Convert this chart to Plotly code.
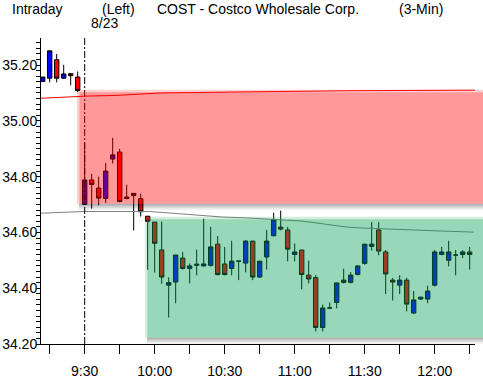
import plotly.graph_objects as go

# ---------------- data ----------------
bar_idx = list(range(62))
opens = [35.141, 35.153, 35.219, 35.153, 35.169, 35.157, 34.701, 34.788, 34.759, 34.722,
         34.863, 34.888, 34.727, 34.732, 34.721, 34.658, 34.637, 34.537, 34.411, 34.422,
         34.508, 34.471, 34.482, 34.480, 34.482, 34.558, 34.487, 34.471, 34.497, 34.490,
         34.569, 34.440, 34.512, 34.588, 34.619, 34.609, 34.521, 34.537, 34.447, 34.438,
         34.259, 34.329, 34.349, 34.429, 34.421, 34.449, 34.489, 34.550, 34.609, 34.530,
         34.429, 34.411, 34.429, 34.311, 34.361, 34.361, 34.411, 34.521, 34.500, 34.519,
         34.521, 34.530]
highs = [35.157, 35.251, 35.240, 35.201, 35.169, 35.177, 34.920, 34.810, 34.800, 34.849,
         34.939, 34.900, 34.771, 34.740, 34.739, 34.658, 34.637, 34.639, 34.439, 34.519,
         34.530, 34.489, 34.538, 34.649, 34.620, 34.587, 34.548, 34.570, 34.497, 34.572,
         34.569, 34.497, 34.609, 34.671, 34.678, 34.620, 34.560, 34.537, 34.499, 34.447,
         34.341, 34.349, 34.419, 34.470, 34.458, 34.482, 34.558, 34.637, 34.637, 34.537,
         34.437, 34.447, 34.437, 34.390, 34.368, 34.409, 34.537, 34.548, 34.570, 34.537,
         34.537, 34.548]
lows = [35.141, 35.138, 35.138, 35.150, 35.127, 35.103, 34.700, 34.685, 34.697, 34.706,
        34.847, 34.708, 34.719, 34.607, 34.657, 34.466, 34.456, 34.416, 34.295, 34.346,
        34.467, 34.417, 34.446, 34.477, 34.477, 34.446, 34.446, 34.446, 34.429, 34.457,
        34.429, 34.437, 34.467, 34.586, 34.607, 34.496, 34.496, 34.396, 34.417, 34.245,
        34.245, 34.329, 34.328, 34.417, 34.417, 34.446, 34.484, 34.535, 34.518, 34.379,
        34.356, 34.379, 34.317, 34.308, 34.358, 34.346, 34.406, 34.518, 34.478, 34.446,
        34.508, 34.467]
closes = [35.157, 35.251, 35.153, 35.168, 35.162, 35.109, 34.788, 34.772, 34.723, 34.820,
          34.878, 34.711, 34.722, 34.740, 34.674, 34.640, 34.561, 34.440, 34.420, 34.519,
          34.471, 34.480, 34.486, 34.487, 34.548, 34.449, 34.449, 34.497, 34.497, 34.569,
          34.440, 34.497, 34.569, 34.646, 34.612, 34.540, 34.530, 34.449, 34.433, 34.259,
          34.329, 34.329, 34.419, 34.421, 34.447, 34.480, 34.558, 34.558, 34.533, 34.451,
          34.422, 34.429, 34.343, 34.358, 34.368, 34.390, 34.530, 34.530, 34.530, 34.519,
          34.530, 34.521]

red_ma_x = [-0.24, 2.5, 6.5, 10.5, 14.6, 16.8, 29.6, 43.9, 61.8]
red_ma_y = [35.081, 35.085, 35.089, 35.091, 35.096, 35.100, 35.104, 35.108, 35.110]
gray_ma_x = [-0.24, 1.9, 5.9, 15.3, 17.5, 19.3, 21.3, 23.3, 25.8, 29.3, 32.8, 35.3, 36.9,
             38.2, 39.8, 41.5, 43.5, 45.5, 48.9, 52.9, 56.9, 61.6]
gray_ma_y = [34.669, 34.672, 34.675, 34.675, 34.671, 34.667, 34.663, 34.660, 34.655, 34.652,
             34.648, 34.644, 34.641, 34.637, 34.632, 34.625, 34.619, 34.616, 34.612, 34.609,
             34.605, 34.601]

tick_pos = [6, 16, 26, 36, 46, 56]
tick_text = ["9:30", "10:00", "10:30", "11:00", "11:30", "12:00"]
day_start_idx = 6
day_label = "8/23"

# zones (price levels and start bar)
resist_top, resist_bottom, resist_start = 35.1115, 34.703, 4.9
support_top, support_bottom, support_start = 34.656, 34.223, 14.6

# ---------------- layout geometry ----------------
W, H = 483, 382
ML, MR, MT, MB = 41, 8, 38, 38
XR = [-0.24, 61.76]
YR = [34.2, 35.297]
PW = W - ML - MR
PH = H - MT - MB
PX_PER_PRICE = PH / (YR[1] - YR[0])
FONT = "Liberation Sans, Arial, sans-serif"


def xdom(idx):
    return (idx - XR[0]) / (XR[1] - XR[0])


def pxp(px):
    return px / PX_PER_PRICE


XEND = (W - ML) / PW  # domain fraction of window right edge

fig = go.Figure()

fig.add_trace(go.Scatter(x=red_ma_x, y=red_ma_y, mode="lines",
                         line=dict(color="#ff0000", width=1), hoverinfo="skip"))
fig.add_trace(go.Scatter(x=gray_ma_x, y=gray_ma_y, mode="lines",
                         line=dict(color="#808080", width=1), hoverinfo="skip"))

fig.add_trace(go.Candlestick(
    x=bar_idx, open=opens, high=highs, low=lows, close=closes,
    increasing=dict(fillcolor="#0000ff", line=dict(color="#000000", width=1)),
    decreasing=dict(fillcolor="#ff0000", line=dict(color="#000000", width=1)),
    whiskerwidth=0, hoverinfo="skip"))

shapes = []
# day separator
shapes.append(dict(type="line", xref="x", yref="paper", x0=day_start_idx, x1=day_start_idx,
                   y0=0, y1=1, line=dict(color="#000000", width=1, dash="7px,2px,2px,2px"),
                   layer="above"))


def zone(x0_idx, top, bottom, rgb):
    x0 = xdom(x0_idx)
    inset = 2.5 / PW
    # soft outer band
    shapes.append(dict(type="rect", xref="x domain", yref="y", x0=x0, x1=XEND,
                       y0=bottom, y1=top, line=dict(width=0),
                       fillcolor="rgba(%s,0.18)" % rgb, layer="above"))
    shapes.append(dict(type="rect", xref="x domain", yref="y", x0=x0 + inset, x1=XEND,
                       y0=bottom, y1=top - pxp(2.5), line=dict(width=0),
                       fillcolor="rgba(%s,0.27)" % rgb, layer="above"))
    # shadow
    for k, a in enumerate([0.30, 0.18, 0.08]):
        shapes.append(dict(type="rect", xref="x domain", yref="y", x0=x0 + 2 / PW, x1=XEND,
                           y0=bottom - pxp(2 * (k + 1)), y1=bottom - pxp(2 * k),
                           line=dict(width=0), fillcolor="rgba(0,0,0,%.2f)" % a,
                           layer="above"))


zone(resist_start, resist_top, resist_bottom, "255,0,0")
zone(support_start, support_top, support_bottom, "0,160,80")

fig.update_layout(shapes=shapes)


def ann(text, px, py, anchor="left"):
    fig.add_annotation(text=text, xref="paper", yref="paper",
                       x=(px - ML) / PW, y=(H - MB - py) / PH,
                       xanchor=anchor, yanchor="middle", showarrow=False,
                       font=dict(family=FONT, size=14, color="#000000"))


ann("Intraday", 10, 9)
ann("(Left)", 100, 9)
ann("COST - Costco Wholesale Corp.", 155, 9)
ann("(3-Min)", 397, 9)
fig.add_annotation(text=day_label, xref="x", yref="paper", x=day_start_idx + 2.85,
                   y=(H - MB - 23.5) / PH, xanchor="center", yanchor="middle",
                   showarrow=False, font=dict(family=FONT, size=14, color="#000000"))

fig.update_layout(
    width=W, height=H,
    margin=dict(l=ML, r=MR, t=MT, b=MB, pad=0, autoexpand=False),
    paper_bgcolor="white", plot_bgcolor="white",
    showlegend=False,
    boxgap=0.1, boxgroupgap=0.3,
    font=dict(family=FONT, size=14, color="#000000"),
    xaxis=dict(range=XR, rangeslider=dict(visible=False), showgrid=False, zeroline=False,
               automargin=False,
               showline=True, linecolor="#000000", linewidth=1,
               tickmode="array", tickvals=tick_pos, ticktext=tick_text,
               ticks="outside", ticklen=9, tickcolor="#000000", ticklabelstandoff=5,
               minor=dict(tick0=1, dtick=5, ticks="outside", ticklen=9, tickcolor="#000000"),
               tickfont=dict(family=FONT, size=14, color="#000000")),
    yaxis=dict(range=YR, showgrid=False, zeroline=False, showline=True, automargin=False,
               linecolor="#000000", linewidth=1, tick0=34.2, dtick=0.2, tickformat=".2f",
               ticks="outside", ticklen=4, tickcolor="#000000", ticklabelstandoff=-4,
               minor=dict(tick0=34.2, dtick=0.02, ticks="outside", ticklen=4,
                          tickcolor="#000000"),
               tickfont=dict(family=FONT, size=14, color="#000000")),
)

fig.write_html("out.html")
